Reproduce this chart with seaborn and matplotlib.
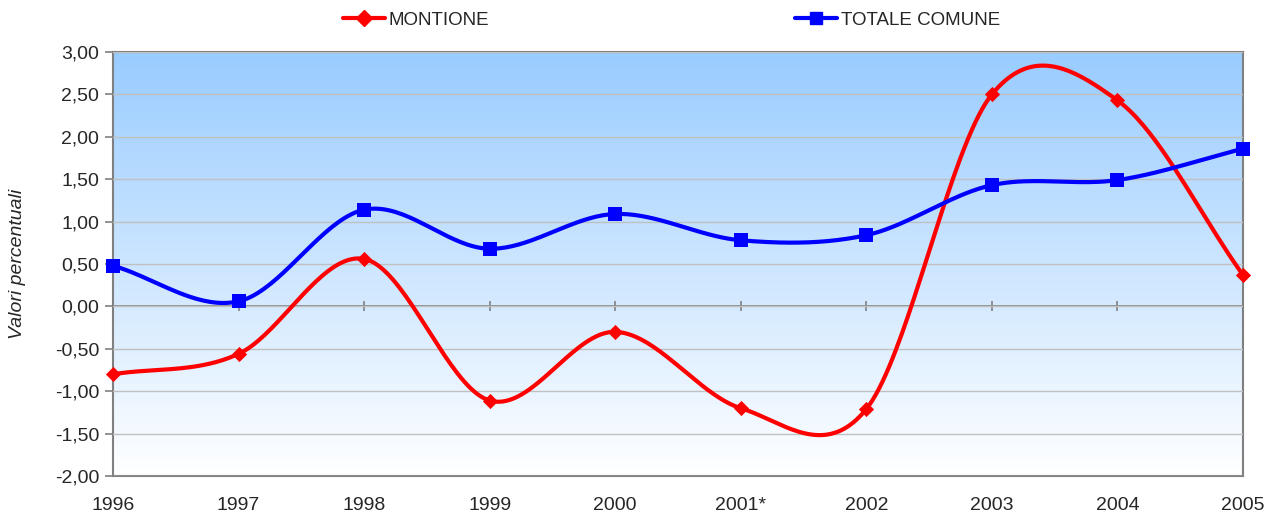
import numpy as np
import pandas as pd
import matplotlib
matplotlib.use("Agg")
import matplotlib.pyplot as plt
from matplotlib.ticker import FuncFormatter, MultipleLocator
from matplotlib.lines import Line2D
import seaborn as sns

# Data
years = ['1996', '1997', '1998', '1999', '2000', '2001*', '2002', '2003', '2004', '2005']
montione = [-0.80, -0.56, 0.56, -1.11, -0.30, -1.20, -1.21, 2.50, 2.43, 0.37]
totale = [0.48, 0.06, 1.14, 0.68, 1.09, 0.78, 0.84, 1.43, 1.49, 1.86]

RED = '#FF0000'
BLUE = '#0000FF'


def smooth(xs, ys, n=40):
    # Catmull-Rom spline through the points (like Excel's smoothed line)
    p = np.column_stack([xs, ys]).astype(float)
    p = np.vstack([2 * p[0] - p[1], p, 2 * p[-1] - p[-2]])
    out = []
    t = np.linspace(0, 1, n)[:, None]
    for i in range(1, len(p) - 2):
        p0, p1, p2, p3 = p[i - 1], p[i], p[i + 1], p[i + 2]
        seg = 0.5 * ((2 * p1) + (-p0 + p2) * t
                     + (2 * p0 - 5 * p1 + 4 * p2 - p3) * t ** 2
                     + (-p0 + 3 * p1 - 3 * p2 + p3) * t ** 3)
        out.append(seg if i == 1 else seg[1:])
    out = np.vstack(out)
    return pd.DataFrame({'x': out[:, 0], 'y': out[:, 1]})


sns.set_style('white')
plt.rcParams['font.family'] = ['Liberation Sans', 'DejaVu Sans']

fig = plt.figure(figsize=(12.72, 5.16), dpi=100)
ax = fig.add_axes([0.0888, 0.0775, 0.8884, 0.8217])

idx = np.arange(len(years))

# gradient background
grad = np.linspace(0, 1, 256)[:, None]
cmap = matplotlib.colors.LinearSegmentedColormap.from_list('bg', ['#FFFFFF', '#99CCFF'])
ax.imshow(grad, aspect='auto', cmap=cmap, origin='lower',
          extent=[0, len(years) - 1, -2, 3], zorder=0)

ax.set_xlim(0, len(years) - 1)
ax.set_ylim(-2, 3)
ax.yaxis.set_major_locator(MultipleLocator(0.5))
ax.yaxis.set_major_formatter(FuncFormatter(lambda v, _: f"{v:.2f}".replace('.', ',')))
ax.grid(axis='y', color='#C0C0C0', lw=1, zorder=1)
ax.set_axisbelow(False)

# zero line with category ticks
ax.axhline(0, color='#808080', lw=1.2, zorder=2)
ax.vlines(idx[1:-1], -0.06, 0.06, color='#808080', lw=1.2, zorder=2)

for s in ax.spines.values():
    s.set_color('#808080')
    s.set_linewidth(1.5)

sns.lineplot(data=smooth(idx, montione), x='x', y='y', sort=False, color=RED,
             lw=3, ax=ax, zorder=4)
sns.lineplot(data=smooth(idx, totale), x='x', y='y', sort=False, color=BLUE,
             lw=3, ax=ax, zorder=4)
sns.scatterplot(x=idx, y=montione, marker='D', s=60, color=RED, edgecolor=RED,
                linewidth=0, ax=ax, zorder=5, clip_on=False)
sns.scatterplot(x=idx, y=totale, marker='s', s=95, color=BLUE, edgecolor=BLUE,
                linewidth=0, ax=ax, zorder=5, clip_on=False)

ax.set_xticks(idx)
ax.set_xticklabels(years)
ax.tick_params(axis='x', length=0, pad=15, labelsize=14)
ax.tick_params(axis='y', length=6, width=1.2, color='#808080', labelsize=14, pad=4, left=True)
ax.set_xlabel('')
ax.set_ylabel('Valori percentuali', fontsize=14, style='italic')
ax.yaxis.set_label_coords(-0.077, 0.5)

handles = [
    Line2D([], [], color=RED, lw=3, marker='D', markersize=8),
    Line2D([], [], color=BLUE, lw=3, marker='s', markersize=9),
]
fig.legend(handles, ['MONTIONE', 'TOTALE COMUNE'], loc='upper center',
           bbox_to_anchor=(0.528, 1.01), ncol=2, frameon=False, fontsize=13.5,
           handlelength=2.25, handletextpad=0.2, columnspacing=16.3)

fig.savefig('out.png', dpi=100)
